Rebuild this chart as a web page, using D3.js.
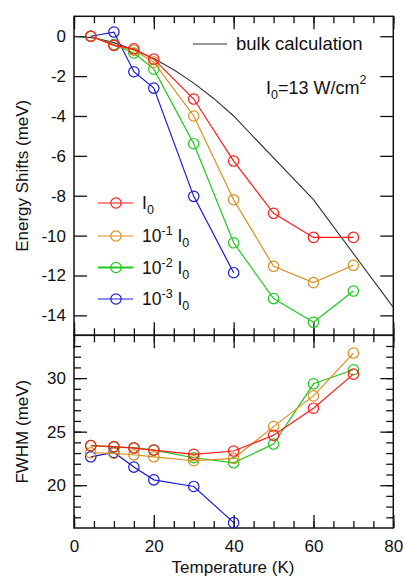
<!DOCTYPE html>
<html>
    <head>
        <meta charset="utf-8">
        <title>Energy shifts and FWHM</title>
        <script src="https://d3js.org/d3.v7.min.js"></script>
        <style>
            body { margin: 0; background: #fff; }
            text { font-family: "Liberation Sans", Arial, sans-serif; fill: #111; }
            .frame { fill: none; stroke: #111; stroke-width: 1.5px; }
            .tick line { stroke: #111; stroke-width: 1.3px; }
            .series { fill: none; stroke-width: 1.2px; }
            .mark { fill: none; stroke-width: 1.2px; }
        </style>
    </head>
    <body>
        <script>
            // temperatures (K) of the measured points
            const temps = [4.2, 10, 15, 20, 30, 40, 50, 60, 70];

            // energy shifts (meV)
            const shiftI0 = [0, -0.46, -0.63, -1.15, -3.15, -6.26, -8.88, -10.09, -10.09];
            const shiftI1 = [0, -0.45, -0.7, -1.3, -4.0, -8.2, -11.54, -12.36, -11.49];
            const shiftI2 = [0, -0.42, -0.84, -1.65, -5.39, -10.36, -13.16, -14.35, -12.78];
            const shiftI3 = [0, 0.21, -1.78, -2.6, -8.03, -11.86];

            // FWHM (meV)
            const fwhmI0 = [23.69, 23.6, 23.47, 23.28, 22.88, 23.19, 24.66, 27.19, 30.37];
            const fwhmI1 = [23.03, 22.97, 22.84, 22.65, 22.28, 22.5, 25.47, 28.34, 32.34];
            const fwhmI2 = [23.69, 23.56, 23.5, 23.28, 22.56, 22.09, 23.84, 29.47, 30.78];
            const fwhmI3 = [22.65, 23.06, 21.69, 20.5, 19.88, 16.5];

            // bulk calculation
            const bulkT = [0, 5, 10, 15, 20, 25, 30, 35, 40, 60, 80];
            const bulkE = [0, -0.08, -0.32, -0.68, -1.12, -1.68, -2.35, -3.12, -4.0, -8.2, -13.6];

            const xTicks = [0, 20, 40, 60, 80];
            const shiftTicks = [0, -2, -4, -6, -8, -10, -12, -14];
            const fwhmTicks = [20, 25, 30];

            const seriesNames = ["I0", "I1", "I2", "I3"];
            const colors = ["#ff1a1a", "#d8901e", "#1ec81e", "#1a1ad8"];
            const exps = [null, "-1", "-2", "-3"];

            var width = 404, height = 578;
            var left = 74, right = 393.3;
            var topY = 16.3, midY = 335.3, botY = 528;

            var svg = d3.select("body").append("svg")
                .attr("width", width)
                .attr("height", height);

            let x = d3.scaleLinear().domain([0, 80]).range([left, right]);
            let yTop = d3.scaleLinear().domain([-15, 1]).range([midY, topY]);
            let yBot = d3.scaleLinear().domain([16, 34]).range([botY, midY]);

            function ticks(g, axis){
                g.call(axis);
                g.select(".domain").remove();
                g.selectAll("text").style("font-size", "17px").attr("fill", "#111");
            }
            function noLabels(a){ return a.tickFormat(""); }

            var minorX = d3.range(0, 81, 5);

            // --- x ticks (inward everywhere)
            svg.append("g").attr("transform", "translate(0," + topY + ")")
                .call(ticks, noLabels(d3.axisTop(x).tickValues(minorX).tickSize(-7)));
            svg.append("g").attr("transform", "translate(0," + topY + ")")
                .call(ticks, noLabels(d3.axisTop(x).tickValues(xTicks).tickSize(-13)));
            svg.append("g").attr("transform", "translate(0," + midY + ")")
                .call(ticks, noLabels(d3.axisBottom(x).tickValues(minorX).tickSize(-7)));
            svg.append("g").attr("transform", "translate(0," + midY + ")")
                .call(ticks, noLabels(d3.axisBottom(x).tickValues(xTicks).tickSize(-13)));
            svg.append("g").attr("transform", "translate(0," + midY + ")")
                .call(ticks, noLabels(d3.axisTop(x).tickValues(minorX).tickSize(-7)));
            svg.append("g").attr("transform", "translate(0," + midY + ")")
                .call(ticks, noLabels(d3.axisTop(x).tickValues(xTicks).tickSize(-13)));
            svg.append("g").attr("transform", "translate(0," + botY + ")")
                .call(ticks, noLabels(d3.axisBottom(x).tickValues(minorX).tickSize(-7)));
            svg.append("g").attr("transform", "translate(0," + botY + ")")
                .call(ticks, d3.axisBottom(x).tickValues(xTicks).tickSize(-13).tickPadding(12));

            // --- y ticks, top panel
            svg.append("g").attr("transform", "translate(" + left + ",0)")
                .call(ticks, d3.axisLeft(yTop).tickValues(shiftTicks).tickSize(-13).tickPadding(8)
                    .tickFormat(function (d){ return d3.format("d")(d).replace("−", "-"); }));
            svg.append("g").attr("transform", "translate(" + right + ",0)")
                .call(ticks, noLabels(d3.axisRight(yTop).tickValues(shiftTicks).tickSize(-13)));

            // --- y ticks, bottom panel
            var minorF = d3.range(17, 34, 1);
            svg.append("g").attr("transform", "translate(" + left + ",0)")
                .call(ticks, noLabels(d3.axisLeft(yBot).tickValues(minorF).tickSize(-7)));
            svg.append("g").attr("transform", "translate(" + left + ",0)")
                .call(ticks, d3.axisLeft(yBot).tickValues(fwhmTicks).tickSize(-13).tickPadding(8));
            svg.append("g").attr("transform", "translate(" + right + ",0)")
                .call(ticks, noLabels(d3.axisRight(yBot).tickValues(minorF).tickSize(-7)));
            svg.append("g").attr("transform", "translate(" + right + ",0)")
                .call(ticks, noLabels(d3.axisRight(yBot).tickValues(fwhmTicks).tickSize(-13)));

            // frames
            svg.append("rect").attr("class", "frame")
                .attr("x", left).attr("y", topY)
                .attr("width", right - left).attr("height", midY - topY);
            svg.append("rect").attr("class", "frame")
                .attr("x", left).attr("y", midY)
                .attr("width", right - left).attr("height", botY - midY);

            // bulk calculation
            var bulk = bulkT.map(function (t, i){ return [t, bulkE[i]]; });
            svg.append("path").datum(bulk)
                .attr("fill", "none").attr("stroke", "#333").attr("stroke-width", 1.1)
                .attr("d", d3.line().x(function (d){ return x(d[0]); }).y(function (d){ return yTop(d[1]); }));

            var shifts = [shiftI0, shiftI1, shiftI2, shiftI3];
            var fwhms = [fwhmI0, fwhmI1, fwhmI2, fwhmI3];

            function drawSeries(vals, yScale, color){
                var pts = vals.map(function (v, i){ return [temps[i], v]; });
                var g = svg.append("g");
                g.append("path").datum(pts).attr("class", "series")
                    .attr("stroke", color)
                    .attr("d", d3.line().x(function (d){ return x(d[0]); }).y(function (d){ return yScale(d[1]); }));
                g.selectAll("circle").data(pts).enter().append("circle")
                    .attr("class", "mark").attr("stroke", color)
                    .attr("cx", function (d){ return x(d[0]); })
                    .attr("cy", function (d){ return yScale(d[1]); })
                    .attr("r", 5.2);
            }
            for (var k = 3; k >= 0; k--){
                drawSeries(shifts[k], yTop, colors[k]);
                drawSeries(fwhms[k], yBot, colors[k]);
            }

            // legend, series
            var legY = [203, 236, 267.5, 299];
            seriesNames.forEach(function (name, i){
                svg.append("line").attr("x1", 98).attr("x2", 133)
                    .attr("y1", legY[i]).attr("y2", legY[i])
                    .attr("stroke", colors[i]).attr("stroke-width", i == 2 ? 1.8 : 1.2);
                svg.append("circle").attr("class", "mark").attr("stroke", colors[i])
                    .attr("cx", 116).attr("cy", legY[i]).attr("r", 5.2);
                var t = svg.append("text").attr("x", 142).attr("y", legY[i] + 6)
                    .style("font-size", "17.5px");
                if (exps[i]){
                    t.append("tspan").text("10");
                    t.append("tspan").attr("dy", -7).style("font-size", "12.5px").text(exps[i]);
                    t.append("tspan").attr("dy", 7).text(" I");
                } else {
                    t.append("tspan").text("I");
                }
                t.append("tspan").attr("dy", 5).style("font-size", "12.5px").text("0");
            });

            // legend, bulk
            svg.append("line").attr("x1", 193).attr("x2", 227).attr("y1", 44).attr("y2", 44)
                .attr("stroke", "#333").attr("stroke-width", 1.1);
            svg.append("text").attr("x", 236).attr("y", 50).style("font-size", "18.5px")
                .text("bulk calculation");

            var it = svg.append("text").attr("x", 266).attr("y", 94).style("font-size", "18px");
            it.append("tspan").text("I");
            it.append("tspan").attr("dy", 5).style("font-size", "12.5px").text("0");
            it.append("tspan").attr("dy", -5).text("=13 W/cm");
            it.append("tspan").attr("dy", -10).style("font-size", "12.5px").text("2");

            // axis titles
            svg.append("text").attr("text-anchor", "middle")
                .attr("transform", "translate(28," + ((topY + midY) / 2) + ") rotate(-90)")
                .style("font-size", "17px").text("Energy Shifts (meV)");
            svg.append("text").attr("text-anchor", "middle")
                .attr("transform", "translate(28," + ((midY + botY) / 2) + ") rotate(-90)")
                .style("font-size", "17px").text("FWHM (meV)");
            svg.append("text").attr("text-anchor", "middle")
                .attr("x", 233).attr("y", 573)
                .style("font-size", "17px").text("Temperature (K)");
        </script>
    </body>
</html>
